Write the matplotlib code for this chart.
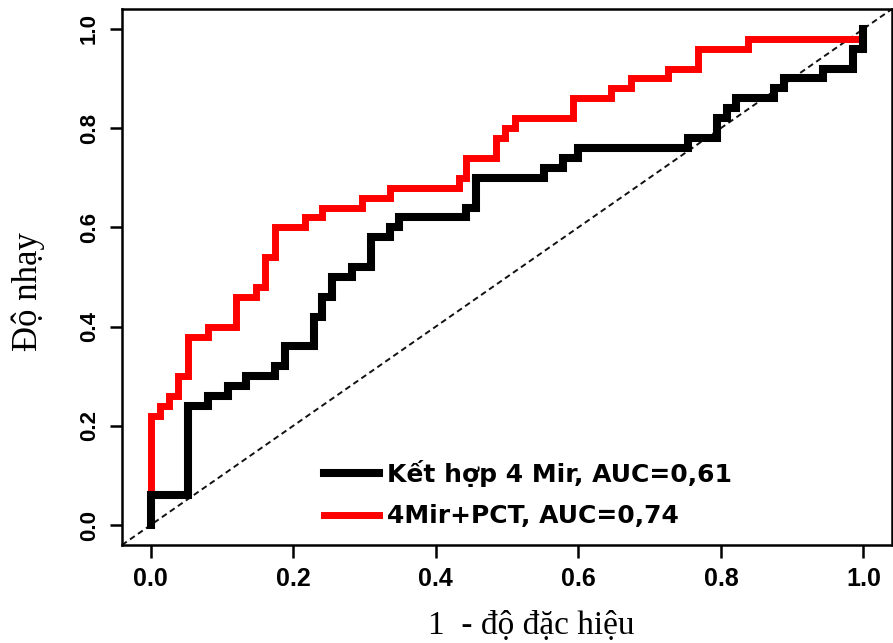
import matplotlib
matplotlib.use("Agg")
import matplotlib.pyplot as plt

# ROC step points: false positive rate (1 - specificity) vs sensitivity
mir_fpr = [0, 0, 0.053, 0.08, 0.108, 0.134, 0.175, 0.189, 0.229, 0.241,
           0.254, 0.282, 0.309, 0.336, 0.349, 0.443, 0.457, 0.552, 0.579,
           0.60, 0.754, 0.795, 0.809, 0.821, 0.875, 0.889, 0.943, 0.985, 1.0]
mir_tpr = [0, 0.06, 0.24, 0.26, 0.28, 0.30, 0.32, 0.36, 0.42, 0.46,
           0.50, 0.52, 0.58, 0.60, 0.62, 0.64, 0.70, 0.72, 0.74,
           0.76, 0.78, 0.82, 0.84, 0.86, 0.88, 0.90, 0.92, 0.96, 1.0]

pct_fpr = [0, 0, 0.013, 0.026, 0.039, 0.053, 0.08, 0.12, 0.148, 0.161,
           0.174, 0.216, 0.241, 0.296, 0.336, 0.432, 0.443, 0.484, 0.497,
           0.511, 0.592, 0.646, 0.674, 0.726, 0.768, 0.838, 1.0, 1.0]
pct_tpr = [0, 0.22, 0.24, 0.26, 0.30, 0.38, 0.40, 0.46, 0.48, 0.54,
           0.60, 0.62, 0.64, 0.66, 0.68, 0.70, 0.74, 0.78, 0.80,
           0.82, 0.86, 0.88, 0.90, 0.92, 0.96, 0.98, 0.98, 1.0]

mir_label = "Kết hợp 4 Mir, AUC=0,61"
pct_label = "4Mir+PCT, AUC=0,74"
ticks = [0.0, 0.2, 0.4, 0.6, 0.8, 1.0]
tick_labels = ["0.0", "0.2", "0.4", "0.6", "0.8", "1.0"]

fig = plt.figure(figsize=(8.93, 6.43), dpi=100)
fig.patch.set_facecolor("white")
ax = fig.add_axes([0.1366, 0.1524, 0.8623, 0.8336])

# reference diagonal
ax.plot([-0.04, 1.04], [-0.04, 1.04], color="#111111", linewidth=1.4,
        linestyle=(0, (3, 2)), zorder=2)

ax.plot(pct_fpr, pct_tpr, color="#FF0000", linewidth=5.0,
        drawstyle="steps-post", solid_joinstyle="miter", label=pct_label, zorder=3)
ax.plot(mir_fpr, mir_tpr, color="black", linewidth=5.8,
        drawstyle="steps-post", solid_joinstyle="miter", label=mir_label, zorder=4)

ax.set_xlim(-0.04, 1.04)
ax.set_ylim(-0.04, 1.04)

for spine in ax.spines.values():
    spine.set_linewidth(1.8)
    spine.set_color("black")

ax.set_xticks(ticks)
ax.set_yticks(ticks)
ax.set_xticklabels(tick_labels, fontfamily="Liberation Sans", fontweight="bold", fontsize=18)
ax.set_yticklabels(tick_labels, fontfamily="Liberation Sans", fontweight="bold", fontsize=16,
                   rotation=90, va="center")
ax.tick_params(axis="both", direction="out", length=9, width=1.8, colors="black")
ax.tick_params(axis="x", pad=7)
ax.tick_params(axis="y", pad=7)

ax.set_xlabel("1  - độ đặc hiệu", fontfamily="Liberation Serif", fontsize=24, labelpad=14)
ax.set_ylabel("Độ nhạy", fontfamily="Liberation Serif", fontsize=25, labelpad=24)
ax.xaxis.label.set_x(0.532)
ax.yaxis.label.set_y(0.472)

handles, labels = ax.get_legend_handles_labels()
ax.legend(handles[::-1], labels[::-1], loc="center", bbox_to_anchor=(0.527, 0.095),
          frameon=False, handlelength=2.2, labelspacing=0.7, handletextpad=0.3,
          prop={"family": "DejaVu Sans", "weight": "bold", "size": 18})

fig.savefig("out.png", dpi=100, facecolor="white")
